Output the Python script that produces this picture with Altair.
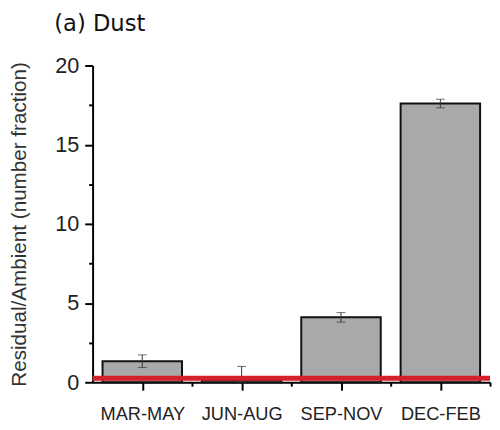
import altair as alt
import pandas as pd

categories = ["MAR-MAY", "JUN-AUG", "SEP-NOV", "DEC-FEB"]
positions = [1, 2, 3, 4]
values = [1.33, 0.15, 4.1, 17.6]
errors = [0.4, 0.85, 0.3, 0.27]
threshold = [0.25]
y_ticks = [0, 2.5, 5, 7.5, 10, 12.5, 15, 17.5, 20]
x_ticks = [1, 1.5, 2, 2.5, 3, 3.5, 4, 4.5]

df = pd.DataFrame({"cat": categories, "pos": positions, "val": values, "err": errors})
thr = pd.DataFrame({"t": threshold})

FONT = "Liberation Sans"
xscale = alt.Scale(domain=[0.5, 4.5], nice=False, zero=False)
yscale = alt.Scale(domain=[0, 20], nice=False)

cat_array = "[" + ",".join(f"'{c}'" for c in categories) + "]"
x_label_expr = f"datum.value % 1 == 0 ? {cat_array}[datum.value - 1] : ''"
y_label_expr = "datum.value % 5 == 0 ? datum.label : ''"

base = alt.Chart(df).transform_calculate(
    x0="datum.pos - 0.4", x1="datum.pos + 0.4",
    lo="max(0, datum.val - datum.err)", hi="datum.val + datum.err",
)

bars = base.mark_bar(color="#a9a9a9", stroke="#111111", strokeWidth=2).encode(
    x=alt.X("x0:Q", scale=xscale, axis=alt.Axis(
        values=x_ticks, labelExpr=x_label_expr, title=None, grid=False,
        tickSize={"condition": {"test": "datum.value % 1 != 0", "value": 4}, "value": 8},
        tickWidth=2, tickColor="black", domainColor="black", domainWidth=2,
        labelFont=FONT, labelFontSize=18.5, labelColor="#222222", labelPadding=15,
        orient="bottom")),
    x2="x1:Q",
    y=alt.Y("val:Q", scale=yscale, axis=alt.Axis(
        values=y_ticks, labelExpr=y_label_expr,
        title="Residual/Ambient (number fraction)", grid=False,
        tickSize={"condition": {"test": "datum.value % 5 != 0", "value": 4}, "value": 8},
        tickWidth=2, tickColor="black", domainColor="black", domainWidth=2,
        labelFont=FONT, labelFontSize=22, labelColor="#222222", labelPadding=6,
        titleFont=FONT, titleFontSize=21, titleFontWeight="normal", titleColor="#333333",
        titleAngle=-90, titleX=-74, titleBaseline="middle", titleAlign="center",
        orient="left")),
    y2=alt.datum(0),
)

rules = base.mark_rule(color="#333333", strokeWidth=1).encode(
    x=alt.X("pos:Q", scale=xscale), y=alt.Y("lo:Q", scale=yscale), y2="hi:Q"
)
cap_lo = base.mark_tick(orient="horizontal", size=9, thickness=1, color="#333333").encode(
    x=alt.X("pos:Q", scale=xscale), y=alt.Y("lo:Q", scale=yscale)
)
cap_hi = base.mark_tick(orient="horizontal", size=9, thickness=1, color="#333333").encode(
    x=alt.X("pos:Q", scale=xscale), y=alt.Y("hi:Q", scale=yscale)
)

red = alt.Chart(thr).mark_rule(color="#d3202a", strokeWidth=5).encode(
    y=alt.Y("t:Q", scale=yscale)
)

chart = alt.layer(bars, rules, cap_lo, cap_hi, red).properties(
    width=404, height=322,
    autosize=alt.AutoSizeParams(type="none"),
    padding={"left": 86, "top": 55, "right": 2, "bottom": 43},
    title=alt.TitleParams("(a) Dust", anchor="start", frame="group", font="DejaVu Sans",
                          fontSize=23, fontWeight="normal", color="#111111",
                          dx=-39, offset=19),
).configure_view(stroke=None)

chart.save("out.html", embed_options={"renderer": "svg", "actions": False})
